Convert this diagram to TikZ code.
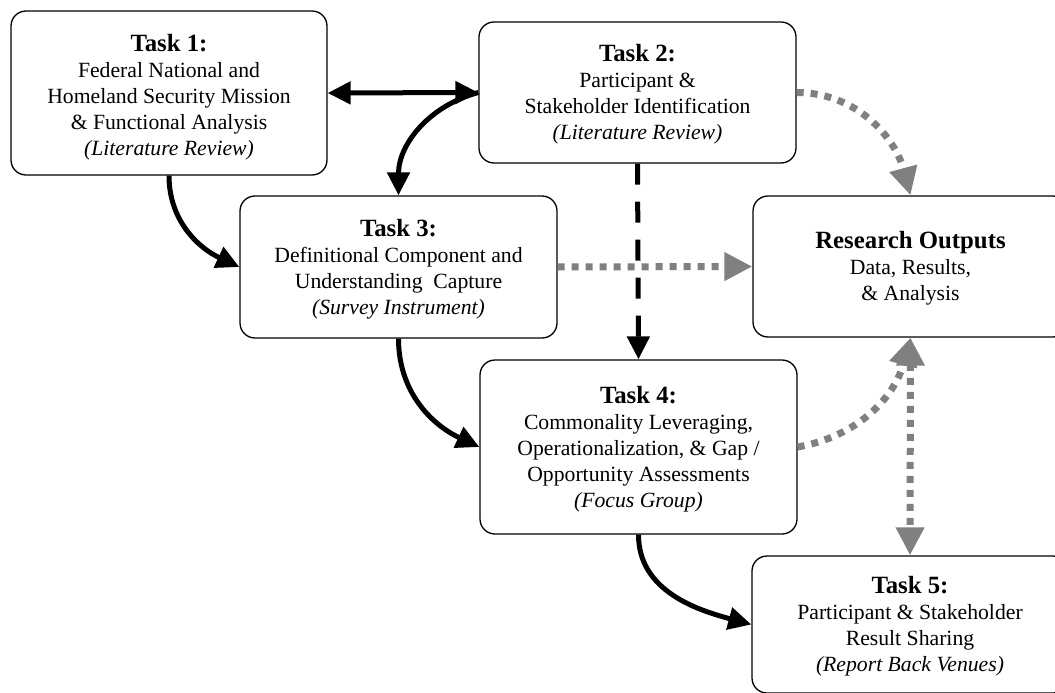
\documentclass[tikz,border=0pt]{standalone}
\usepackage{fontspec}
\setmainfont{Liberation Serif}
\usetikzlibrary{arrows.meta}
\definecolor{dotgray}{RGB}{128,128,128}
\newcommand{\tasktitle}[2][21pt]{{\fontsize{24.8}{26}\selectfont\bfseries\rule{0pt}{#1}#2}}
\begin{document}
\begin{tikzpicture}[x=1pt,y=1pt,
  box/.style={draw, line width=1.3pt, rounded corners=15pt, align=center,
    font=\fontsize{21.7}{26}\selectfont, inner sep=0pt, fill=white},
  blkarrow/.style={line width=5pt, -{Triangle[length=23pt,width=22pt]}},
  blkdouble/.style={line width=5pt, {Triangle[length=23pt,width=22pt]}-{Triangle[length=23pt,width=22pt]}},
  blkdash/.style={blkarrow, dash pattern=on 21pt off 17pt},
  grayarrow/.style={line width=7pt, draw=dotgray, dash pattern=on 7pt off 7pt,
    -{Triangle[length=28pt,width=27pt,fill=dotgray]}},
  graydouble/.style={line width=7pt, draw=dotgray, dash pattern=on 7pt off 7pt,
    {Triangle[length=28pt,width=27pt,fill=dotgray]}-{Triangle[length=28pt,width=27pt,fill=dotgray]}}
]
\useasboundingbox (0,0) rectangle (1055,-693);
\clip (0,0) rectangle (1055,-693);

\node[box, minimum width=316pt, minimum height=164pt] (t1) at (169,-93)
  {\tasktitle[26pt]{Task 1:}\\Federal National and\\Homeland Security Mission\\\& Functional Analysis\\\textit{(Literature Review)}};
\node[box, minimum width=317pt, minimum height=141pt] (t2) at (637.5,-92.5)
  {\tasktitle{Task 2:}\\Participant \&\\Stakeholder Identification\\\textit{(Literature Review)}};
\node[box, minimum width=317pt, minimum height=142pt] (t3) at (398.5,-267)
  {\tasktitle{Task 3:}\\Definitional Component and\\Understanding\ \ Capture\\\textit{(Survey Instrument)}};
\node[box, minimum width=315pt, minimum height=141pt] (ro) at (910.5,-266.5)
  {\tasktitle{Research Outputs}\\Data, Results,\\\& Analysis};
\node[box, minimum width=317pt, minimum height=174pt] (t4) at (638.5,-447)
  {\tasktitle{Task 4:}\\Commonality Leveraging,\\Operationalization, \& Gap /\\Opportunity Assessments\\\textit{(Focus Group)}};
\node[box, minimum width=316pt, minimum height=137pt] (t5) at (910,-624.5)
  {\tasktitle{Task 5:}\\Participant \& Stakeholder\\Result Sharing\\\textit{(Report Back Venues)}};

% black connectors
\draw[blkdouble] (t1.east) -- (t2.west);
\draw[blkarrow] (t2.west) to[out=195,in=90] (t3.north);
\draw[blkarrow] (t1.south) to[out=270,in=155] (t3.west);
\draw[blkarrow] (t3.south) to[out=270,in=155] (t4.west);
\draw[blkarrow] (t4.south) to[out=270,in=165] (t5.west);
\draw[blkdash] (t2.south) -- (t4.north);

% gray dotted connectors
\draw[grayarrow] (t3.east) -- (ro.west);
\draw[grayarrow] (t2.east) to[out=0,in=105] (ro.north);
\draw[grayarrow] (t4.east) to[out=10,in=255] (ro.south);
\draw[graydouble] (ro.south) -- (t5.north);
\end{tikzpicture}
\end{document}
